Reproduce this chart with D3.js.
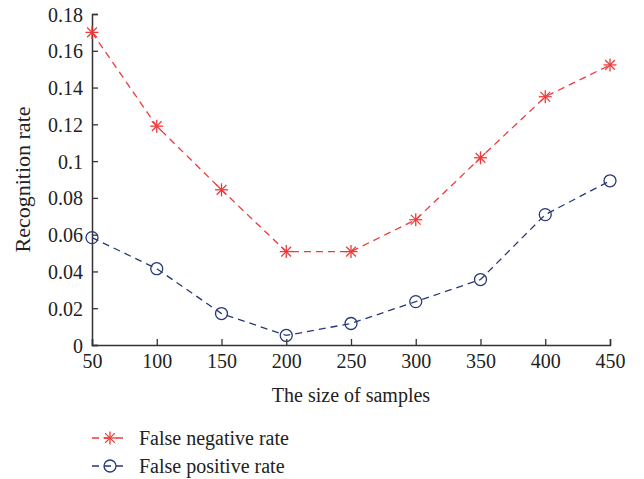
<!DOCTYPE html>
<html>
<head>
<meta charset="utf-8">
<script src="https://cdn.jsdelivr.net/npm/d3@7"></script>
<style>
body { margin: 0; background: #fff; }
svg text { font-family: "Liberation Serif", "DejaVu Serif", serif; fill: #222; }
</style>
</head>
<body>
<svg width="644" height="479"></svg>
<script>
var sizes = [50, 100, 150, 200, 250, 300, 350, 400, 450];
var falseNegative = [0.170, 0.119, 0.0844, 0.0508, 0.0508, 0.0681, 0.1018, 0.135, 0.1523];
var falsePositive = [0.0584, 0.0415, 0.0171, 0.0052, 0.0117, 0.0236, 0.0356, 0.0709, 0.0893];
var yTicks = [0, 0.02, 0.04, 0.06, 0.08, 0.1, 0.12, 0.14, 0.16, 0.18];
var seriesNames = ["False negative rate", "False positive rate"];

var svg = d3.select("svg"),
    margin = {top: 14, right: 34, bottom: 134, left: 92},
    width = 644 - margin.left - margin.right,
    height = 479 - margin.top - margin.bottom;
var g = svg.append("g").attr("transform", "translate(" + margin.left + "," + margin.top + ")");

var x = d3.scaleLinear().domain([50, 450]).range([0, width]);
var y = d3.scaleLinear().domain([0, 0.18]).range([height, 0]);

var red = "#ee3a3a", navy = "#263875", axisColor = "#333";
var fontSize = "20px";

var xAxis = d3.axisBottom(x).tickValues(sizes).tickSize(-6).tickPadding(9);
var yAxis = d3.axisLeft(y).tickValues(yTicks).tickSize(-6).tickPadding(9)
    .tickFormat(function(d) { return d === 0 ? "0" : String(+d.toFixed(2)); });

var gx = g.append("g").attr("transform", "translate(0," + height + ")").call(xAxis);
var gy = g.append("g").call(yAxis);
[gx, gy].forEach(function(a) {
    a.select(".domain").attr("stroke", axisColor).attr("stroke-width", 1.5);
    a.selectAll(".tick line").attr("stroke", axisColor).attr("stroke-width", 1.3);
    a.selectAll(".tick text").style("font-size", fontSize).attr("fill", "#222");
});
gy.selectAll(".tick text").attr("dy", "0.35em");

g.append("text")
    .attr("x", width / 2)
    .attr("y", height + 57)
    .attr("text-anchor", "middle")
    .style("font-size", fontSize)
    .text("The size of samples");
svg.append("text")
    .attr("transform", "translate(30," + (margin.top + height / 2) + ") rotate(-90)")
    .attr("text-anchor", "middle")
    .style("font-size", "22px")
    .text("Recognition rate");

var line = d3.line()
    .x(function(d, i) { return x(sizes[i]); })
    .y(function(d) { return y(d); });

function drawStar(sel, cx, cy, r) {
    var p = sel.append("g").attr("transform", "translate(" + cx + "," + cy + ")")
        .attr("stroke", red).attr("stroke-width", 1.3);
    p.append("line").attr("x1", -r).attr("x2", r).attr("y1", 0).attr("y2", 0);
    p.append("line").attr("x1", 0).attr("x2", 0).attr("y1", -r).attr("y2", r);
    var d = r * 0.75;
    p.append("line").attr("x1", -d).attr("x2", d).attr("y1", -d).attr("y2", d);
    p.append("line").attr("x1", -d).attr("x2", d).attr("y1", d).attr("y2", -d);
}
function drawCircle(sel, cx, cy, r) {
    sel.append("circle").attr("cx", cx).attr("cy", cy).attr("r", r)
        .attr("fill", "none").attr("stroke", navy).attr("stroke-width", 1.3);
}

g.append("path").datum(falseNegative)
    .attr("fill", "none").attr("stroke", red).attr("stroke-width", 1.3)
    .attr("stroke-dasharray", "7,5").attr("d", line);
g.append("path").datum(falsePositive)
    .attr("fill", "none").attr("stroke", navy).attr("stroke-width", 1.3)
    .attr("stroke-dasharray", "7,5").attr("d", line);

falseNegative.forEach(function(v, i) { drawStar(g, x(sizes[i]), y(v), 6.5); });
falsePositive.forEach(function(v, i) { drawCircle(g, x(sizes[i]), y(v), 6); });

// legend
var legend = svg.append("g").attr("class", "legend");
var legendY = [438, 466];
[red, navy].forEach(function(c, i) {
    legend.append("line")
        .attr("x1", 92).attr("x2", 128).attr("y1", legendY[i]).attr("y2", legendY[i])
        .attr("stroke", c).attr("stroke-width", 1.3).attr("stroke-dasharray", "7,5");
    if (i === 0) drawStar(legend, 110, legendY[i], 6.5);
    else drawCircle(legend, 110, legendY[i], 6);
    legend.append("text")
        .attr("x", 139).attr("y", legendY[i]).attr("dy", "0.35em")
        .style("font-size", fontSize)
        .text(seriesNames[i]);
});
</script>
</body>
</html>
